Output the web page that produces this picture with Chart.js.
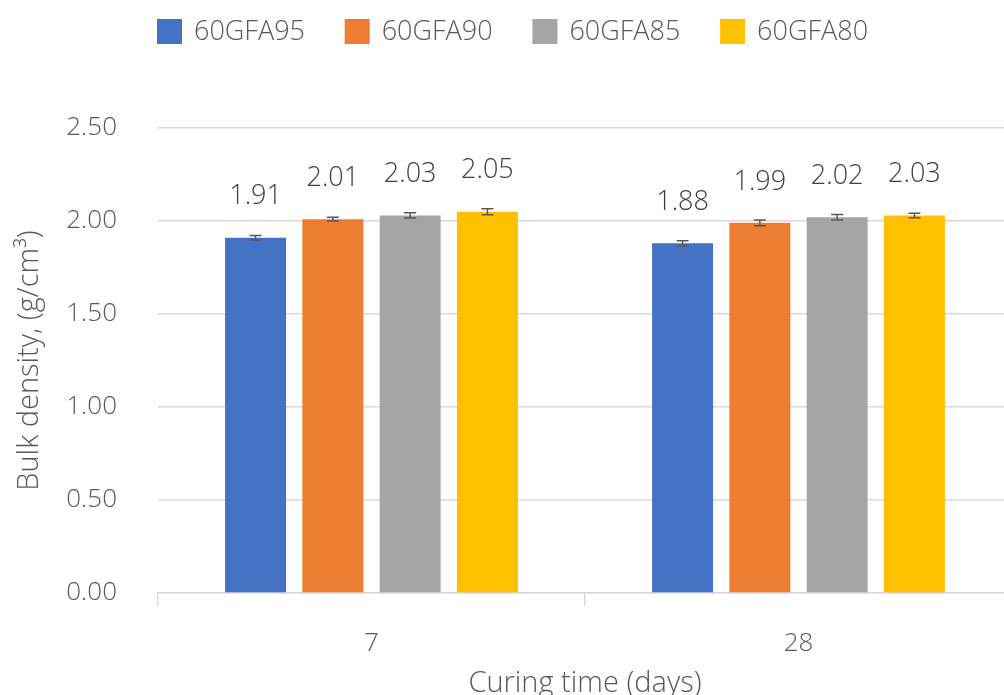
<!DOCTYPE html>
<html>
<head>
<meta charset="utf-8">
<script src="https://cdn.jsdelivr.net/npm/chart.js@4.4.1/dist/chart.umd.min.js"></script>
<style>
  html, body { margin: 0; padding: 0; background: #fff; overflow: hidden; }
  #wrap { position: relative; width: 1020px; height: 695px; }
</style>
</head>
<body>
<div id="wrap"><canvas id="c"></canvas></div>
<script>
const categories = ['7', '28'];
const seriesNames = ['60GFA95', '60GFA90', '60GFA85', '60GFA80'];
const s95 = [1.91, 1.88];
const s90 = [2.01, 1.99];
const s85 = [2.03, 2.02];
const s80 = [2.05, 2.03];
const e95 = [0.012, 0.014];
const e90 = [0.010, 0.015];
const e85 = [0.014, 0.015];
const e80 = [0.016, 0.012];
const yTicks = [0, 0.5, 1.0, 1.5, 2.0, 2.5];
const colors = ['#4472C4', '#ED7D31', '#A5A5A5', '#FFC000'];

const FONT = '"Open Sans", "Noto Sans", sans-serif';
const W = 300;
const values = [s95, s90, s85, s80];
const errors = [e95, e90, e85, e80];

const errorBarPlugin = {
  id: 'errorBars',
  afterDatasetsDraw(chart) {
    const ctx = chart.ctx;
    const ys = chart.scales.y;
    ctx.save();
    chart.data.datasets.forEach((ds, di) => {
      const meta = chart.getDatasetMeta(di);
      meta.data.forEach((bar, i) => {
        const v = ds.data[i], e = ds.errors[i];
        const yTop = ys.getPixelForValue(v + e);
        const yBot = ys.getPixelForValue(v - e);
        ctx.strokeStyle = '#595959';
        ctx.lineWidth = 1.5;
        ctx.beginPath();
        ctx.moveTo(bar.x, yTop); ctx.lineTo(bar.x, yBot);
        ctx.moveTo(bar.x - 6, yTop); ctx.lineTo(bar.x + 6, yTop);
        ctx.moveTo(bar.x - 6, yBot); ctx.lineTo(bar.x + 6, yBot);
        ctx.stroke();
        ctx.fillStyle = '#404040';
        ctx.font = W + ' 27px ' + FONT;
        ctx.textAlign = 'center';
        ctx.textBaseline = 'middle';
        ctx.fillText(v.toFixed(2), bar.x, bar.y - 41);
      });
    });
    ctx.restore();
  }
};

const legendPlugin = {
  id: 'customLegend',
  afterDraw(chart) {
    const ctx = chart.ctx;
    ctx.save();
    ctx.font = W + ' 27px ' + FONT;
    const box = 25, gapText = 12;
    const items = chart.data.datasets.map(ds => ({label: ds.label, color: ds.backgroundColor, w: box + gapText + ctx.measureText(ds.label).width}));
    const stride = 187.7;
    let x = 157;
    const yTop = 19;
    items.forEach(it => {
      ctx.fillStyle = it.color;
      ctx.fillRect(x, yTop, box, box);
      ctx.fillStyle = '#595959';
      ctx.textAlign = 'left';
      ctx.textBaseline = 'middle';
      ctx.fillText(it.label, x + box + gapText, yTop + box / 2 + 1);
      x += stride;
    });
    ctx.restore();
  }
};

new Chart(document.getElementById('c'), {
  type: 'bar',
  data: {
    labels: categories,
    datasets: seriesNames.map((n, i) => ({
      label: n,
      data: values[i],
      errors: errors[i],
      backgroundColor: colors[i],
      borderWidth: 0,
      categoryPercentage: 0.724,
      barPercentage: 0.789
    }))
  },
  options: {
    responsive: true,
    maintainAspectRatio: false,
    animation: false,
    events: [],
    layout: { padding: { top: 128, left: 0, right: 8, bottom: 0 } },
    plugins: {
      legend: { display: false },
      tooltip: { enabled: false },
      title: { display: false }
    },
    scales: {
      x: {
        offset: true,
        grid: { display: true, drawOnChartArea: false, drawTicks: true, tickLength: 13, color: '#d9d9d9', lineWidth: 1.5, offset: true },
        border: { display: true, color: '#d9d9d9', width: 1.5 },
        ticks: { color: '#595959', font: { family: FONT, size: 26, weight: W }, padding: 22 },
        title: { display: true, text: 'Curing time (days)', color: '#595959', font: { family: FONT, size: 29, weight: W }, padding: { top: 8, bottom: -6 } },
        afterFit(scale) { scale.height = 102; }
      },
      y: {
        min: 0, max: 2.5,
        afterBuildTicks(scale) { scale.ticks = yTicks.map(v => ({ value: v })); },
        grid: { color: '#d9d9d9', lineWidth: 1.5, drawTicks: false },
        border: { display: false },
        ticks: { color: '#595959', font: { family: FONT, size: 26, weight: W }, padding: 41, callback: v => Number(v).toFixed(2) },
        title: { display: true, text: 'Bulk density, (g/cm³)', color: '#595959', font: { family: FONT, size: 29, weight: W }, padding: { top: 12, bottom: 0 } },
        afterFit(scale) { scale.width = 158; }
      }
    }
  },
  plugins: [errorBarPlugin, legendPlugin]
});
</script>
</body>
</html>
